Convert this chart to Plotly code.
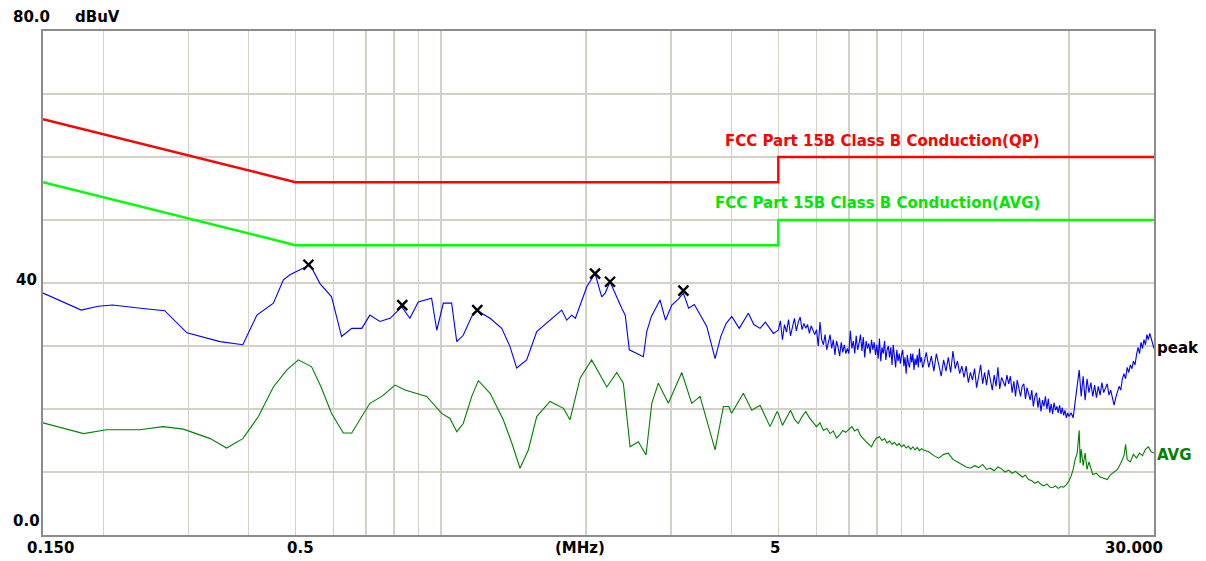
import math
import plotly.graph_objects as go

# ---------------- data ----------------
# Limit lines (FCC Part 15B Class B conducted)
qp_freq = [0.15, 0.5, 5.0, 5.0, 30.0]
qp_level = [66, 56, 56, 60, 60]
avg_lim_freq = [0.15, 0.5, 5.0, 5.0, 30.0]
avg_lim_level = [56, 46, 46, 50, 50]

# Peak trace (MHz, dBuV)
peak_freq = [
    0.150, 0.164, 0.180, 0.195, 0.209, 0.239, 0.268, 0.298, 0.349, 0.389,
    0.416, 0.450, 0.472, 0.487, 0.507, 0.536, 0.562, 0.594, 0.623, 0.654,
    0.686, 0.713, 0.748, 0.785, 0.830, 0.863, 0.898, 0.957, 0.981, 1.012,
    1.053, 1.079, 1.113, 1.159, 1.190, 1.265, 1.337, 1.391, 1.436, 1.506,
    1.580, 1.669, 1.780, 1.823, 1.867, 1.900, 2.006, 2.087, 2.154, 2.190,
    2.241, 2.370, 2.410, 2.457, 2.540, 2.627, 2.670, 2.730, 2.845, 2.920,
    3.009, 3.100, 3.180, 3.260, 3.350, 3.450, 3.555, 3.699, 3.800, 3.900,
    4.005, 4.150, 4.250, 4.335, 4.450, 4.584, 4.700, 4.884,
    5.00, 5.05, 5.10, 5.15, 5.20, 5.25, 5.30, 5.35, 5.40, 5.45,
    5.50, 5.55, 5.60, 5.65, 5.70, 5.75, 5.80, 5.85, 5.90, 5.95,
    6.00, 6.05, 6.10, 6.15, 6.20, 6.25, 6.30, 6.35, 6.40, 6.45,
    6.50, 6.55, 6.60, 6.65, 6.70, 6.75, 6.80, 6.85, 6.90, 6.95,
    7.00, 7.05, 7.10, 7.15, 7.20, 7.25, 7.30, 7.35, 7.40, 7.45,
    7.50, 7.55, 7.60, 7.65, 7.70, 7.75, 7.80, 7.85, 7.90, 7.95,
    8.00, 8.05, 8.10, 8.15, 8.20, 8.25, 8.30, 8.35, 8.40, 8.45,
    8.50, 8.55, 8.60, 8.65, 8.70, 8.75, 8.80, 8.85, 8.90, 8.95,
    9.00, 9.05, 9.10, 9.15, 9.20, 9.25, 9.30, 9.35, 9.40, 9.45,
    9.50, 9.55, 9.60, 9.65, 9.70, 9.75, 9.80, 9.85, 9.90, 9.95,
    10.000, 10.125, 10.250, 10.375, 10.500, 10.625, 10.750, 10.875, 11.000,
    11.125, 11.250, 11.375, 11.500, 11.625, 11.750, 11.875, 12.000,
    12.125, 12.250, 12.375, 12.500, 12.625, 12.750, 12.875, 13.000,
    13.125, 13.250, 13.375, 13.500, 13.625, 13.750, 13.875, 14.000,
    14.125, 14.250, 14.375, 14.500, 14.625, 14.750, 14.875, 15.000,
    15.125, 15.250, 15.375, 15.500, 15.625, 15.750, 15.875, 16.000,
    16.125, 16.250, 16.375, 16.500, 16.625, 16.750, 16.875, 17.000,
    17.125, 17.250, 17.375, 17.500, 17.625, 17.750, 17.875, 18.000,
    18.125, 18.250, 18.375, 18.500, 18.625, 18.750, 18.875, 19.000,
    19.125, 19.250, 19.375, 19.500, 19.625, 19.750, 19.875, 20.000,
    20.2, 20.4, 20.6, 20.8, 21.0, 21.2, 21.4, 21.6, 21.8, 22.0,
    22.2, 22.4, 22.6, 22.8, 23.0, 23.2, 23.4, 23.6, 23.8, 24.0,
    24.2, 24.4, 24.6, 24.8, 25.0, 25.2, 25.4, 25.6, 25.8, 26.0,
    26.2, 26.4, 26.6, 26.8, 27.0, 27.2, 27.4, 27.6, 27.8, 28.0,
    28.2, 28.4, 28.6, 28.8, 29.0, 29.2, 29.4, 29.6, 29.8, 30.0,
]
peak_level = [
    38.4, 37.1, 35.7, 36.3, 36.5, 36.0, 35.6, 32.1, 30.7, 30.2,
    34.9, 36.8, 40.5, 41.3, 42.0, 42.9, 39.9, 37.8, 31.5, 32.8,
    32.8, 34.9, 33.9, 34.4, 36.2, 34.4, 37.0, 37.6, 32.5, 36.8,
    36.8, 30.7, 31.7, 34.7, 35.6, 34.4, 32.8, 29.9, 26.5, 27.8,
    32.3, 33.9, 35.7, 34.1, 34.9, 34.4, 39.4, 41.5, 37.8, 38.4,
    40.2, 36.0, 34.9, 29.4, 28.8, 28.3, 32.3, 34.7, 37.3, 34.1,
    36.5, 37.4, 38.4, 36.0, 36.6, 34.9, 33.1, 28.0, 31.5, 33.6,
    34.7, 32.8, 34.0, 35.2, 33.4, 32.8, 33.8, 32.0,
    32.5, 34.0, 31.0, 33.4, 32.2, 34.2, 31.6, 33.0, 34.4, 32.4,
    33.8, 34.6, 32.6, 33.6, 32.8, 33.4, 32.0, 33.2, 32.6, 31.8,
    32.6, 30.0, 33.8, 31.0, 30.2, 31.8, 29.4, 30.6, 31.8, 29.6,
    31.0, 28.6, 30.8, 29.8, 28.4, 30.6, 29.0, 30.2, 28.8, 29.6,
    28.8, 32.4, 29.6, 30.8, 28.8, 31.6, 29.4, 30.4, 31.8, 29.2,
    31.4, 28.2, 30.8, 29.6, 30.4, 28.8, 31.0, 29.4, 30.6, 28.6,
    30.2, 28.0, 31.2, 27.6, 29.8, 28.8, 30.8, 27.8, 29.4, 30.0,
    28.2, 29.8, 27.0, 30.2, 28.4, 26.6, 29.4, 27.6, 28.8, 27.2,
    28.6, 29.4, 26.8, 28.2, 25.6, 28.6, 27.2, 26.6, 28.8, 27.4,
    28.8, 26.2, 28.0, 27.0, 28.6, 26.6, 29.6, 27.4, 28.2, 26.6,
    27.0, 29.0, 26.6, 28.4, 26.0, 28.8, 27.0, 25.2, 27.8,
    26.0, 28.2, 25.8, 29.2, 26.4, 27.6, 25.6, 26.8,
    25.0, 26.8, 24.2, 25.8, 24.6, 26.4, 23.4, 25.2,
    27.0, 24.0, 25.8, 23.8, 26.2, 24.6, 23.0, 25.4,
    23.6, 26.6, 23.2, 25.0, 24.2, 23.6, 25.4, 24.0,
    25.2, 22.6, 24.4, 22.0, 24.6, 23.2, 22.0, 23.6,
    24.0, 21.6, 23.4, 22.4, 21.4, 23.0, 20.4, 22.0,
    22.6, 20.2, 21.8, 19.6, 21.4, 20.4, 22.0, 20.0,
    21.6, 19.4, 20.8, 19.2, 21.0, 19.8, 20.4, 19.4,
    20.6, 19.2, 20.2, 19.0, 19.8, 18.6, 19.4, 18.8,
    19.4, 18.6, 21.2, 24.0, 26.2, 22.0, 25.2, 21.4, 24.8, 22.6,
    24.2, 22.0, 23.8, 21.8, 23.6, 22.2, 24.2, 22.6, 23.4, 24.0,
    22.2, 23.0, 21.8, 20.6, 21.8, 22.6, 23.6, 23.0, 24.8, 25.6,
    24.8, 26.6, 25.8, 27.0, 26.4, 27.6, 27.0, 28.6, 29.8, 28.8,
    30.6, 29.6, 31.0, 30.2, 31.8, 31.0, 32.0, 31.2, 30.4, 29.6,
]

# Average trace (MHz, dBuV)
avg_freq = [
    0.150, 0.182, 0.203, 0.238, 0.266, 0.293, 0.333, 0.360, 0.389, 0.419,
    0.450, 0.480, 0.507, 0.540, 0.565, 0.594, 0.628, 0.654, 0.713, 0.755,
    0.804, 0.843, 0.935, 1.004, 1.045, 1.079, 1.113, 1.159, 1.196, 1.265,
    1.347, 1.403, 1.459, 1.518, 1.580, 1.683, 1.795, 1.852, 1.943, 2.053,
    2.207, 2.314, 2.388, 2.466, 2.565, 2.661, 2.735, 2.822, 2.960, 3.155,
    3.309, 3.443, 3.699, 3.849, 3.950, 4.000, 4.233, 4.406, 4.584, 4.807, 4.970,
    5.0, 5.1, 5.2, 5.3, 5.4, 5.5, 5.6, 5.7, 5.8, 5.9,
    6.0, 6.1, 6.2, 6.3, 6.4, 6.5, 6.6, 6.7, 6.8, 6.9,
    7.0, 7.1, 7.2, 7.3, 7.4, 7.5, 7.6, 7.7, 7.8, 7.9,
    8.0, 8.1, 8.2, 8.3, 8.4, 8.5, 8.6, 8.7, 8.8, 8.9,
    9.0, 9.1, 9.2, 9.3, 9.4, 9.5, 9.6, 9.7, 9.8, 9.9, 10.0,
    10.25, 10.5, 10.75, 11.0, 11.25, 11.5, 11.75, 12.0, 12.25, 12.5,
    12.75, 13.0, 13.25, 13.5, 13.75, 14.0, 14.25, 14.5, 14.75, 15.0,
    15.25, 15.5, 15.75, 16.0, 16.25, 16.5, 16.75, 17.0, 17.25, 17.5,
    17.75, 18.0, 18.25, 18.5, 18.75, 19.0, 19.25, 19.5, 19.75, 20.0,
    20.2, 20.4, 20.6, 20.8, 21.0, 21.1, 21.2, 21.4, 21.6, 21.8,
    22.0, 22.4, 22.8, 23.2, 23.6, 24.0, 24.4, 24.8, 25.2, 25.6,
    26.0, 26.2, 26.4, 26.8, 27.2, 27.6, 28.0, 28.4, 28.8, 29.2, 29.6, 30.0,
]
avg_level = [
    17.8, 16.1, 16.7, 16.7, 17.2, 16.8, 15.3, 13.8, 15.3, 18.8,
    23.5, 26.2, 27.8, 26.7, 23.5, 19.3, 16.2, 16.2, 20.9, 22.0,
    23.8, 23.0, 22.0, 19.3, 18.5, 16.4, 17.7, 22.0, 24.5, 22.5,
    18.3, 14.6, 10.6, 13.5, 18.8, 21.2, 20.1, 18.3, 24.9, 27.8,
    23.5, 25.8, 24.1, 14.0, 14.8, 12.7, 20.9, 24.1, 20.9, 25.8,
    20.9, 22.0, 13.5, 20.4, 20.4, 19.3, 22.5, 19.8, 20.6, 17.2, 19.6,
    19.3, 17.4, 18.6, 19.8, 18.4, 17.7, 18.8, 19.6, 18.6, 17.8,
    17.2, 17.8, 16.6, 16.9, 16.1, 16.5, 15.4, 15.9, 16.6, 16.3,
    16.8, 17.2, 16.5, 16.8, 15.8, 15.2, 14.8, 14.4, 14.0, 14.9,
    15.4, 15.6, 15.0, 15.3, 14.6, 14.9, 14.4, 14.7, 14.2, 14.5,
    14.0, 14.3, 13.8, 14.1, 13.6, 14.0, 13.5, 13.9, 13.4, 13.7, 13.5,
    13.2, 12.6, 12.2, 12.8, 13.0, 12.0, 11.6, 11.2, 10.8, 10.6,
    11.0, 10.7, 11.2, 10.4, 10.6, 10.2, 10.8, 10.5, 10.0, 10.3,
    9.8, 10.1, 9.6, 9.2, 9.5, 8.8, 8.6, 8.2, 8.5, 8.0,
    7.8, 8.1, 7.6, 7.5, 7.8, 7.4, 7.7, 7.6, 8.0, 8.6,
    9.3, 10.4, 12.0, 13.0, 16.6, 11.4, 13.6, 11.0, 13.0, 10.4,
    11.6, 9.6, 9.8, 9.2, 9.0, 8.8, 9.6, 10.0, 10.4, 11.4,
    12.6, 14.4, 12.0, 11.6, 12.8, 12.2, 13.0, 12.6, 13.6, 14.0, 13.2, 13.0,
]

# Peak markers
marker_freq = [0.532, 0.832, 1.190, 2.087, 2.241, 3.180]
marker_level = [42.9, 36.5, 35.7, 41.5, 40.2, 38.8]

# Axis settings / labels
f_min, f_max = 0.15, 30.0
db_min, db_max = 0, 80
grid_freq = [0.2, 0.3, 0.4, 0.5, 0.6, 0.7, 0.8, 0.9, 1, 2, 3, 4, 5, 6, 7, 8, 9, 10, 20]
grid_db = [10, 20, 30, 40, 50, 60, 70]
x_labels = [("0.150", 0.15, 7), ("0.5", 0.5, 5), ("(MHz)", 2.0, -6), ("5", 5.0, -3), ("30.000", 30.0, -20)]

FONT = "DejaVu Sans"
FS = 15
fig = go.Figure()

fig.add_trace(go.Scatter(x=qp_freq, y=qp_level, mode="lines",
                         line=dict(color="#FF0000", width=2.4), hoverinfo="skip"))
fig.add_trace(go.Scatter(x=avg_lim_freq, y=avg_lim_level, mode="lines",
                         line=dict(color="#00FF00", width=2.4), hoverinfo="skip"))
fig.add_trace(go.Scatter(x=avg_freq, y=avg_level, mode="lines",
                         line=dict(color="#008000", width=1.1)))
fig.add_trace(go.Scatter(x=peak_freq, y=peak_level, mode="lines",
                         line=dict(color="#0000FF", width=1.1)))
fig.add_trace(go.Scatter(x=marker_freq, y=marker_level, mode="markers",
                         marker=dict(symbol="x-thin", size=10, color="black",
                                     line=dict(color="black", width=2.4))))


def label(text, color="black", **kw):
    d = dict(text=f"<b>{text}</b>", showarrow=False,
             font=dict(family=FONT, size=FS, color=color))
    d.update(kw)
    return d


ann = []
for txt, f, sh in x_labels:
    ann.append(label(txt, xref="x", x=math.log10(f), xshift=sh,
                     yref="paper", y=0, yshift=-13, xanchor="center", yanchor="middle"))
# y-axis labels
ann.append(label("80.0", xref="paper", x=0, xshift=-32, yref="y", y=80, yshift=14,
                 xanchor="left", yanchor="middle"))
ann.append(label("dBuV", xref="paper", x=0, xshift=30, yref="y", y=80, yshift=14,
                 xanchor="left", yanchor="middle"))
ann.append(label("40", xref="paper", x=0, xshift=-4, yref="y", y=40, yshift=3,
                 xanchor="right", yanchor="middle"))
ann.append(label("0.0", xref="paper", x=0, xshift=-32, yref="y", y=0, yshift=14,
                 xanchor="left", yanchor="middle"))
# limit line names
ann.append(label("FCC Part 15B Class B Conduction(QP)", color="#FF0000",
                 xref="paper", x=0.8995, yref="y", y=62.5, xanchor="right", yanchor="middle"))
ann.append(label("FCC Part 15B Class B Conduction(AVG)", color="#00E600",
                 xref="paper", x=0.8995, yref="y", y=52.7, xanchor="right", yanchor="middle"))
# trace names
ann.append(label("peak", xref="paper", x=1, xshift=1, yref="y", y=29.7,
                 xanchor="left", yanchor="middle"))
ann.append(label("AVG", color="#008000", xref="paper", x=1, xshift=1, yref="y", y=12.7,
                 xanchor="left", yanchor="middle"))

fig.update_layout(
    width=1206, height=561,
    margin=dict(l=43, r=52, t=31, b=26),
    paper_bgcolor="white", plot_bgcolor="white",
    showlegend=False,
    hovermode=False,
    annotations=ann,
    xaxis=dict(type="log", range=[math.log10(f_min), math.log10(f_max)],
               tickvals=grid_freq, showticklabels=False, ticks="",
               showgrid=True, gridcolor="#D4D0C8", gridwidth=1.5,
               showline=True, mirror=True, linecolor="#8C8C8C", linewidth=2,
               zeroline=False, fixedrange=True),
    yaxis=dict(range=[db_min, db_max], tickvals=grid_db, showticklabels=False, ticks="",
               showgrid=True, gridcolor="#D4D0C8", gridwidth=1.5,
               showline=True, mirror=True, linecolor="#8C8C8C", linewidth=2,
               zeroline=False, fixedrange=True),
)

fig.write_html("out.html",
               config={"displayModeBar": False, "staticPlot": True},
               post_script="document.body.style.margin='0px';"
                           "document.body.style.overflow='hidden';")
